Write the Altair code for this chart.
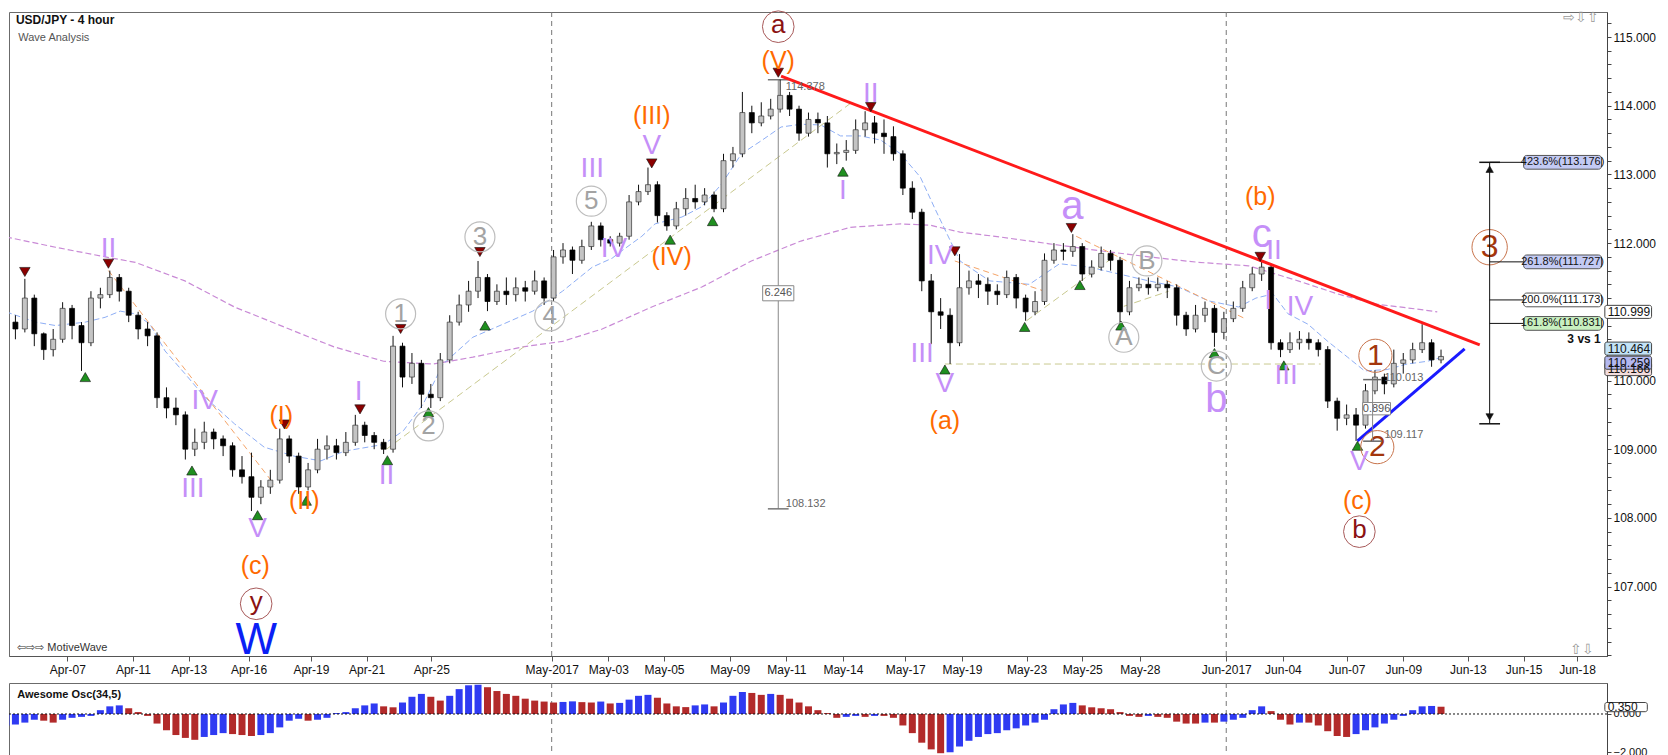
import altair as alt
import pandas as pd

# ---------------- data ----------------
OPEN0 = 110.75
CLOSE = [110.85, 110.75, 111.2, 110.68, 110.45, 110.6, 111.05, 110.8, 110.55, 111.2,
         111.25, 111.5, 111.3, 110.95, 110.75, 110.65, 109.75, 109.6, 109.5, 109.0,
         109.1, 109.25, 109.15, 109.05, 108.7, 108.6, 108.3, 108.45, 108.55, 109.15,
         108.9, 108.45, 108.7, 109.0, 109.05, 108.95, 109.1, 109.35, 109.2, 109.1,
         109.0, 110.5, 110.05, 110.25, 109.8, 109.75, 110.3, 110.85, 111.1, 111.3,
         111.5, 111.15, 111.3, 111.25, 111.35, 111.3, 111.45, 111.2, 111.8, 111.9,
         111.75, 111.95, 112.25, 112.05, 112.0, 112.1, 112.6, 112.75, 112.85, 112.4,
         112.25, 112.5, 112.65, 112.6, 112.7, 112.5, 113.2, 113.3, 113.9, 113.75,
         113.85, 113.95, 114.15, 113.95, 113.6, 113.8, 113.75, 113.3, 113.32, 113.35,
         113.65, 113.75, 113.6, 113.55, 113.3, 112.8, 112.45, 111.45, 111.0, 110.95,
         110.55, 111.35, 111.45, 111.4, 111.3, 111.25, 111.5, 111.2, 111.0, 111.15,
         111.75, 111.9, 111.88, 111.95, 111.55, 111.65, 111.85, 111.75, 111.0, 111.35,
         111.4, 111.35, 111.4, 111.35, 110.95, 110.75, 110.95, 111.05, 110.7, 110.9,
         111.05, 111.35, 111.55, 111.65, 110.55, 110.45, 110.55, 110.6, 110.55, 110.45,
         109.7, 109.45, 109.5, 109.35, 109.85, 110.05, 109.95, 110.25, 110.3, 110.45,
         110.55, 110.3, 110.35]
HIGH = [110.95, 110.95, 111.48, 111.25, 110.7, 110.75, 111.14, 111.1, 110.85, 111.3,
        111.35, 111.6, 111.55, 111.35, 111.0, 110.85, 110.7, 109.9, 109.75, 109.55,
        109.3, 109.4, 109.3, 109.2, 109.1, 108.9, 108.95, 108.55, 108.7, 109.3,
        109.2, 108.95, 108.8, 109.15, 109.2, 109.15, 109.25, 109.5, 109.4, 109.25,
        109.15, 110.65, 110.55, 110.4, 110.3, 109.95, 110.4, 110.95, 111.25, 111.45,
        111.74, 111.55, 111.4, 111.5, 111.5, 111.45, 111.6, 111.5, 111.9, 112.0,
        111.95, 112.05, 112.31, 112.3, 112.1, 112.15, 112.7, 112.85, 113.1, 112.9,
        112.45, 112.6, 112.8, 112.85, 112.8, 112.75, 113.3, 113.4, 114.2, 114.0,
        114.05, 114.1, 114.38, 114.2, 114.0, 113.9, 113.9, 113.85, 113.45, 113.5,
        113.8, 113.92, 113.85, 113.8, 113.7, 113.35, 112.9, 112.5, 111.55, 111.2,
        111.05, 111.84, 111.6, 111.55, 111.5, 111.4, 111.6, 111.55, 111.25, 111.3,
        111.85, 112.0, 112.0, 112.13, 112.0, 111.75, 111.95, 111.9, 111.8, 111.45,
        111.5, 111.5, 111.5, 111.45, 111.4, 111.0, 111.1, 111.15, 111.1, 111.0,
        111.15, 111.45, 111.65, 111.74, 111.7, 110.6, 110.7, 110.72, 110.7, 110.6,
        110.5, 109.75, 109.65, 109.6, 109.95, 110.15, 110.1, 110.45, 110.4, 110.55,
        110.82, 110.6, 110.45]
LOW = [110.6, 110.6, 110.7, 110.5, 110.3, 110.35, 110.55, 110.6, 110.14, 110.5,
       111.05, 111.2, 111.15, 110.85, 110.6, 110.5, 109.6, 109.45, 109.35, 108.85,
       108.9, 109.0, 109.0, 108.9, 108.6, 108.5, 108.1, 108.2, 108.35, 108.5,
       108.8, 108.35, 108.4, 108.65, 108.85, 108.85, 108.9, 109.05, 109.1, 109.0,
       108.93, 108.95, 109.9, 109.95, 109.6, 109.6, 109.7, 110.25, 110.8, 111.0,
       111.2, 111.01, 111.1, 111.1, 111.15, 111.15, 111.25, 111.1, 111.15, 111.7,
       111.55, 111.7, 111.9, 111.95, 111.95, 111.95, 112.05, 112.55, 112.7, 112.3,
       112.18, 112.2, 112.4, 112.5, 112.55, 112.45, 112.45, 113.1, 113.25, 113.6,
       113.7, 113.8, 113.9, 113.85, 113.49, 113.55, 113.6, 113.1, 113.15, 113.2,
       113.3, 113.55, 113.45, 113.3, 113.2, 112.7, 112.35, 111.3, 110.53, 110.75,
       110.24, 110.5, 111.25, 111.2, 111.1, 111.1, 111.2, 111.05, 110.87, 110.95,
       111.1, 111.7, 111.75, 111.8, 111.45, 111.5, 111.6, 111.6, 110.83, 110.95,
       111.3, 111.25, 111.3, 111.2, 110.8, 110.65, 110.7, 110.85, 110.49, 110.6,
       110.85, 111.0, 111.3, 111.45, 110.45, 110.34, 110.4, 110.45, 110.45, 110.35,
       109.6, 109.27, 109.35, 109.12, 109.3, 109.8, 109.8, 109.9, 110.1, 110.25,
       110.4, 110.2, 110.25]
AO = [-0.6, -0.55, -0.45, -0.3, -0.35, -0.45, -0.3, -0.2, -0.15, -0.1,
      0.2, 0.4, 0.45, 0.3, 0.1, -0.1, -0.5, -0.85, -1.1, -1.25,
      -1.35, -1.2, -1.1, -1.0, -1.05, -1.1, -1.15, -1.1, -1.0, -0.7,
      -0.35, -0.25, -0.35, -0.3, -0.2, 0.05, 0.1, 0.3, 0.45, 0.55,
      0.4, 0.35, 0.6, 0.9, 1.05, 0.9, 0.7, 0.95, 1.3, 1.5,
      1.53, 1.4, 1.2, 1.05, 0.95, 0.8, 0.7, 0.65, 0.6, 0.63,
      0.66, 0.62, 0.6, 0.65, 0.55, 0.58, 0.75, 0.95, 1.0, 0.85,
      0.55, 0.4, 0.36, 0.45, 0.5, 0.4, 0.6, 0.95, 1.15, 1.1,
      1.0, 1.05, 1.0, 0.8, 0.6, 0.4, 0.2, 0.05, -0.2, -0.15,
      -0.1, -0.15, -0.1, -0.1, -0.2, -0.6, -1.0, -1.5, -1.85, -2.05,
      -2.0, -1.7, -1.4, -1.2, -1.05, -1.0, -0.85, -0.75, -0.6, -0.45,
      -0.3, 0.25, 0.5, 0.58, 0.45, 0.35, 0.3, 0.25, 0.1, -0.1,
      -0.15, -0.1, -0.15, -0.2, -0.4, -0.5, -0.5, -0.45, -0.45, -0.4,
      -0.3, -0.2, 0.2, 0.4, 0.15, -0.3, -0.55, -0.45, -0.45, -0.6,
      -0.9, -1.15, -1.2, -1.05, -0.85, -0.7, -0.5, -0.3, -0.1, 0.2,
      0.4, 0.42, 0.38]

TICK_BARS = [13.0, 26.9, 38.7, 51.4, 64.6, 76.4, 90.1, 115.6, 127.6, 139.4, 153.3, 165.3, 177.3,
             190.5, 202.5, 216.2, 228.0, 240.2, 258.5, 270.5, 284.0, 296.0, 309.7, 321.5, 332.8]
TICK_LABELS = ['Apr-07', 'Apr-11', 'Apr-13', 'Apr-16', 'Apr-19', 'Apr-21', 'Apr-25', 'May-2017',
               'May-03', 'May-05', 'May-09', 'May-11', 'May-14', 'May-17', 'May-19', 'May-23',
               'May-25', 'May-28', 'Jun-2017', 'Jun-04', 'Jun-07', 'Jun-09', 'Jun-13', 'Jun-15', 'Jun-18']
MONTH_BARS = [115.6, 258.5]
Y_LABELED = [107, 108, 109, 110, 112, 113, 114, 115]   # 111.000 is hidden under the 110.999 tag

BLUE_MA_BAR = [0, 6.3, 10.5, 16.8, 21, 24.2, 27.4, 30.5, 33.7, 37.9, 42.1, 48.4, 54.7, 61, 66.7, 71.6,
               80, 84.2, 88.4, 92.6, 98.9, 105.3, 111.6, 117.9, 124.2, 128.4, 130.5, 134.7, 137.5,
               143.2, 147.4, 151.6, 155.8, 160, 164.2, 168.4, 172.6, 176.8, 181, 185.3, 189.5, 193.7,
               196.8, 202.1, 208.4, 216.8, 223.2, 229.5, 235.8, 242.1, 248.4, 254.7, 261.1, 264.8,
               268.4, 271.6, 275.8, 280, 284.2, 287.8, 292.6, 296.8, 301.1, 304.2]
BLUE_MA_PRICE = [111.0, 110.85, 110.8, 110.85, 110.92, 111.01, 110.97, 110.82, 110.43, 110.1, 109.76,
                 109.37, 109.03, 108.9, 108.83, 108.97, 109.07, 109.27, 109.66, 110.24, 110.63, 110.82,
                 111.01, 111.3, 111.65, 111.78, 111.89, 112.1, 112.28, 112.38, 112.53, 112.86, 113.3,
                 113.49, 113.69, 113.73, 113.72, 113.56, 113.56, 113.5, 113.3, 112.96, 112.5, 111.74,
                 111.45, 111.4, 111.7, 111.65, 111.55, 111.45, 111.36, 111.16, 111.07, 111.2, 111.26,
                 110.97, 110.82, 110.57, 110.34, 110.14, 110.16, 110.24, 110.28, 110.34]
PURPLE_MA_BAR = [0, 10.5, 21, 27.4, 37.9, 48.4, 58.9, 63.2, 69.5, 80, 90.5, 98.9, 109.5, 117.9, 126.3,
                 136.8, 147.4, 157.9, 168.4, 178.9, 189.5, 195.8, 202.1, 210.5, 221, 231.6, 242.1,
                 252.6, 263.2, 273.7, 282.1, 290.5, 298.9, 303.2]
PURPLE_MA_PRICE = [112.09, 111.94, 111.8, 111.72, 111.45, 111.07, 110.78, 110.66, 110.49, 110.28, 110.24,
                   110.34, 110.49, 110.57, 110.75, 111.07, 111.36, 111.74, 112.03, 112.23, 112.28,
                   112.26, 112.16, 112.09, 111.99, 111.89, 111.8, 111.72, 111.67, 111.45, 111.26,
                   111.11, 111.04, 111.0]

RED_TREND = [[(164.2, 114.43), (312.2, 110.52)]]
BLUE_TREND = [[(286.3, 109.12), (309.0, 110.46)]]
ORANGE_DASH = [[(21.7, 111.6), (56.8, 108.49)], [(201.0, 111.74), (220.4, 111.29)],
               [(226.7, 112.1), (262.5, 110.9)]]
TAN_DASH = [[(80.6, 109.0), (179.6, 114.07)], [(198.9, 110.24), (278.5, 110.24)],
            [(216.2, 110.87), (234.7, 111.8)], [(236.8, 111.08), (246.3, 111.3)]]

RED_TRI = [(4.0, 111.58), (21.7, 111.7), (59.0, 109.36), (75.0, 109.58), (83.6, 110.75), (100.4, 111.87),
           (136.8, 113.16), (163.6, 114.48), (183.2, 113.98), (201.0, 111.88), (225.7, 112.22), (265.7, 111.8)]
GREEN_TRI = [(16.8, 110.05), (39.4, 108.69), (53.3, 108.04), (63.6, 108.25), (80.8, 108.84), (89.5, 109.54),
             (101.5, 110.8), (140.7, 112.05), (149.7, 112.32), (177.3, 113.04), (198.9, 110.16),
             (215.8, 110.78), (227.5, 111.39), (236.2, 110.8), (256.0, 110.4), (270.7, 110.22), (286.3, 109.05)]

LAV_TEXT = [("II", 21.7, 111.91), ("III", 39.6, 108.42), ("IV", 42.1, 109.7), ("V", 53.3, 107.84),
            ("I", 74.7, 109.83), ("II", 80.6, 108.61), ("III", 124.2, 113.08), ("IV", 128.8, 111.91),
            ("V", 136.8, 113.42), ("I", 177.3, 112.76), ("II", 183.2, 114.17), ("III", 194.1, 110.39),
            ("IV", 197.9, 111.81), ("V", 198.9, 109.95), ("I", 267.4, 111.16), ("IV", 274.1, 111.07),
            ("III", 271.2, 110.07), ("V", 286.7, 108.81), ("II", 268.6, 111.89)]
LAV_BIG = [("a", 225.9, 112.47), ("b", 256.4, 109.66), ("c", 266.0, 112.06)]
ORANGE_TEXT = [("(I)", 58.3, 109.48), ("(II)", 63.2, 108.25), ("(c)", 52.8, 107.3), ("(III)", 136.8, 113.85),
               ("(IV)", 141.0, 111.8), ("(V)", 163.6, 114.65), ("(a)", 198.9, 109.41), ("(b)", 265.7, 112.67),
               ("(c)", 286.3, 108.25)]
DARKRED_CIRC = [("a", 163.6, 115.15), ("y", 53.0, 106.75), ("b", 286.7, 107.8)]
GREY_CIRC = [("1", 83.6, 110.97), ("2", 89.5, 109.34), ("3", 100.4, 112.09), ("4", 115.2, 110.94),
             ("5", 124.0, 112.61), ("A", 236.8, 110.63), ("B", 241.7, 111.74), ("C", 256.4, 110.21)]
BROWN_CIRC = [("1", 290.1, 110.36), ("2", 290.5, 109.03)]
BROWN_BIG = [("3", 314.3, 111.94)]
BLUE_W = [("W", 53.0, 106.21)]

MEASURE_BAR, MEASURE_HI, MEASURE_LO = 163.6, 114.378, 108.132
FIB_BAR, FIB_LOW = 314.3, 109.37
FIB_LEVELS = [113.176, 111.727, 111.173, 110.831]
FIB_TEXT = ['423.6%(113.176)', '261.8%(111.727)', '200.0%(111.173)', '161.8%(110.831)']
FIB_FILL = ['#c3caf4', '#c3caf4', '#ffffff', '#c8f0c0']
AXIS_TAGS = [("110.166", 110.166, '#f3dcdc'), ("110.999", 110.999, '#ffffff'),
             ("110.464", 110.464, '#c3e3f6'), ("110.259", 110.259, '#b3b8f0')]

# ---------------- scales / axes ----------------
W, H, HO = 1598, 644, 75
XS = alt.Scale(domain=[1.7, 338.1], nice=False, zero=False)
YS = alt.Scale(domain=[105.99, 115.364], nice=False, zero=False)
YO = alt.Scale(domain=[-2.3, 1.62], nice=False, zero=False)
FONT = 'Liberation Sans'

x_label_expr = f"{TICK_LABELS}[indexof({TICK_BARS}, datum.value)]"
AX_X = alt.Axis(title=None, values=TICK_BARS, labelExpr=x_label_expr, grid=False, tickSize=5,
                labelFontSize=12, labelPadding=3, labelFont=FONT, labelColor='#111',
                tickColor='#555', domainColor='#555', labelOverlap=False, labelFlush=False)
YTICKS = [round(106.0 + 0.2 * k, 1) for k in range(47)]
AX_Y = alt.Axis(title=None, orient='right', values=YTICKS,
                labelExpr=f"indexof({Y_LABELED}, round(datum.value * 10) / 10) >= 0 ? format(datum.value, '.3f') : ''",
                grid=False, tickSize=4, labelFontSize=12, labelFont=FONT, labelColor='#111',
                tickColor='#444', domainColor='#444', labelOverlap=False, labelPadding=2)


def ex(f='bar'):
    return alt.X(f'{f}:Q', scale=XS, axis=AX_X)


def ey(f='price'):
    return alt.Y(f'{f}:Q', scale=YS, axis=AX_Y)


def seg_df(segs):
    rows = []
    for k, s in enumerate(segs):
        for b, p in s:
            rows.append(dict(seg=k, bar=b, price=p))
    return pd.DataFrame(rows)


def line_layer(segs, color, width, dash=None):
    kw = dict(color=color, strokeWidth=width)
    if dash:
        kw['strokeDash'] = dash
    return alt.Chart(seg_df(segs)).mark_line(**kw).encode(x=ex(), y=ey(), detail='seg:N')


def text_layer(items, color, size, bold=False, align='center', dy=0):
    df = pd.DataFrame(items, columns=['label', 'bar', 'price'])
    return alt.Chart(df).mark_text(color=color, fontSize=size, font=FONT, align=align, baseline='middle',
                                   fontWeight='bold' if bold else 'normal', dy=dy).encode(
        x=ex(), y=ey(), text='label:N')


def circle_layer(items, color, size, width=1.0):
    df = pd.DataFrame(items, columns=['label', 'bar', 'price'])
    return alt.Chart(df).mark_point(shape='circle', filled=False, color=color, size=size,
                                    strokeWidth=width, opacity=1).encode(x=ex(), y=ey())


def tri_layer(items, shape, fill, size=110):
    df = pd.DataFrame(items, columns=['bar', 'price'])
    return alt.Chart(df).mark_point(shape=shape, filled=True, color=fill, stroke='#111', strokeWidth=0.6,
                                    size=size, opacity=1).encode(x=ex(), y=ey())


def hrule(rows, color, width=1.0, dash=None):
    df = pd.DataFrame(rows, columns=['x1', 'x2', 'price'])
    kw = dict(color=color, strokeWidth=width)
    if dash:
        kw['strokeDash'] = dash
    return alt.Chart(df).mark_rule(**kw).encode(x=ex('x1'), x2='x2:Q', y=ey())


def vrule(rows, color, width=1.0):
    df = pd.DataFrame(rows, columns=['bar', 'p1', 'p2'])
    return alt.Chart(df).mark_rule(color=color, strokeWidth=width).encode(x=ex(), y=ey('p1'), y2='p2:Q')


def box_layer(rows, stroke='#555', radius=3):
    df = pd.DataFrame(rows, columns=['x1', 'x2', 'p1', 'p2', 'fill'])
    return alt.Chart(df).mark_rect(stroke=stroke, strokeWidth=1, cornerRadius=radius).encode(
        x=ex('x1'), x2='x2:Q', y=ey('p1'), y2='p2:Q', fill=alt.Fill('fill:N', scale=None))


# ---------------- candles ----------------
n = min(len(CLOSE), len(HIGH), len(LOW))
opens = [OPEN0] + CLOSE[:n - 1]
cdf = pd.DataFrame(dict(bar=[2 * i for i in range(n)], open=opens, close=CLOSE[:n],
                        high=HIGH[:n], low=LOW[:n]))
cdf['b_lo'] = cdf[['open', 'close']].min(axis=1)
cdf['b_hi'] = cdf[['open', 'close']].max(axis=1)
up = cdf[cdf.close >= cdf.open]
dn = cdf[cdf.close < cdf.open]

wicks = alt.Chart(cdf).mark_rule(color='#111', strokeWidth=1, clip=True).encode(
    x=ex(), y=ey('low'), y2='high:Q')
body_up = alt.Chart(up).mark_bar(size=5, fill='#c4c4c4', stroke='#333', strokeWidth=0.7, clip=True).encode(
    x=ex(), y=ey('b_lo'), y2='b_hi:Q')
body_dn = alt.Chart(dn).mark_bar(size=5, fill='#000', stroke='#000', strokeWidth=0.7, clip=True).encode(
    x=ex(), y=ey('b_lo'), y2='b_hi:Q')

blue_ma = alt.Chart(pd.DataFrame(dict(bar=BLUE_MA_BAR, price=BLUE_MA_PRICE))).mark_line(
    color='#8eaef5', strokeWidth=1, strokeDash=[6, 3], clip=True).encode(x=ex(), y=ey())
purple_ma = alt.Chart(pd.DataFrame(dict(bar=PURPLE_MA_BAR, price=PURPLE_MA_PRICE))).mark_line(
    color='#c98ad6', strokeWidth=1.2, strokeDash=[6, 3], clip=True).encode(x=ex(), y=ey())

month_rules = alt.Chart(pd.DataFrame({'bar': MONTH_BARS})).mark_rule(
    color='#777', strokeDash=[5, 4], strokeWidth=1).encode(x=ex())

# measurement tool (left)
measure = [
    vrule([(MEASURE_BAR, MEASURE_LO, MEASURE_HI)], '#888', 1),
    hrule([(MEASURE_BAR - 2.2, MEASURE_BAR + 2.2, MEASURE_LO), (MEASURE_BAR - 2.2, MEASURE_BAR + 2.2, MEASURE_HI)],
          '#777', 1.5),
]
small_boxes = box_layer([(MEASURE_BAR - 3.3, MEASURE_BAR + 3.3, 111.16, 111.38, '#ffffff'),
                         (287.4, 293.3, 109.5, 109.68, '#ffffff')], stroke='#888', radius=0)
small_txt = text_layer([("6.246", MEASURE_BAR, 111.27), ("0.896", 290.35, 109.59)], '#555', 11)
small_txt2 = text_layer([("114.378", 165.2, 114.27), ("108.132", 165.2, 108.2),
                         ("110.013", 292.0, 110.04), ("109.117", 292.0, 109.2)], '#666', 11, align='left')
small_rules = [hrule([(287.5, 291.5, 110.013), (287.5, 291.5, 109.117)], '#666', 1.5),
               vrule([(289.5, 109.117, 110.013)], '#888', 1)]

# fib tool (right)
fib_layers = [
    vrule([(FIB_BAR, FIB_LOW, FIB_LEVELS[0])], '#111', 1),
    hrule([(FIB_BAR - 2.2, FIB_BAR + 2.2, FIB_LEVELS[0]), (FIB_BAR - 2.2, FIB_BAR + 2.2, FIB_LOW)], '#111', 1.5),
    hrule([(FIB_BAR, 321.5, lv) for lv in FIB_LEVELS], '#111', 1),
    tri_layer([(FIB_BAR, FIB_LEVELS[0] - 0.1)], 'triangle-up', '#111', 55),
    tri_layer([(FIB_BAR, FIB_LOW + 0.1)], 'triangle-down', '#111', 55),
    box_layer([(321.5, 338.0, lv - 0.1, lv + 0.1, fc) for lv, fc in zip(FIB_LEVELS, FIB_FILL)]),
    text_layer([(t, 329.75, lv) for t, lv in zip(FIB_TEXT, FIB_LEVELS)], '#111', 11),
    text_layer([("3 vs 1", 334.3, 110.6)], '#111', 12, bold=True),
]

axis_tags = [
    box_layer([(338.7, 348.6, v - 0.095, v + 0.095, fc) for _, v, fc in AXIS_TAGS], stroke='#444', radius=2),
    text_layer([(t, 339.3, v) for t, v, _ in AXIS_TAGS], '#111', 12, align='left'),
]

titles = [
    text_layer([("USD/JPY - 4 hour", 2.1, 115.25)], '#111', 12, bold=True, align='left'),
    text_layer([("Wave Analysis", 2.6, 114.99)], '#555', 11, align='left'),
    text_layer([("\u21e6\u21e8\u21e8 MotiveWave", 2.4, 106.1)], '#333', 11, align='left'),
    text_layer([("\u21e8\u21e9\u21e7", 333.6, 115.28)], '#999', 14),
    text_layer([("\u21e7\u21e9", 333.8, 106.08)], '#999', 14),
]

main = alt.layer(
    month_rules, purple_ma, blue_ma,
    line_layer(ORANGE_DASH, '#f5a468', 1, [6, 4]),
    line_layer(TAN_DASH, '#c9c98f', 1, [7, 4]),
    *measure,
    wicks, body_up, body_dn,
    line_layer(RED_TREND, '#ff1a1a', 3),
    line_layer(BLUE_TREND, '#1a1aff', 3),
    tri_layer(RED_TRI, 'triangle-down', '#8b0000'),
    tri_layer(GREEN_TRI, 'triangle-up', '#1f8f1f'),
    circle_layer(GREY_CIRC, '#bdbdbd', 900, 1.2),
    circle_layer(DARKRED_CIRC, '#a85a5a', 1000, 1.0),
    circle_layer(BROWN_CIRC, '#c8744c', 1100, 1.0),
    circle_layer(BROWN_BIG, '#c8744c', 1250, 1.0),
    text_layer(GREY_CIRC, '#a3a3a3', 26),
    text_layer(DARKRED_CIRC, '#8b1212', 26, dy=-2),
    text_layer(BROWN_CIRC, '#a3360c', 30),
    text_layer(BROWN_BIG, '#a3360c', 32),
    text_layer(LAV_TEXT, '#c58ff8', 28),
    text_layer(LAV_BIG, '#c58ff8', 40, dy=-4),
    text_layer(ORANGE_TEXT, '#ff6a00', 25),
    text_layer(BLUE_W, '#0b1ff5', 44),
    small_boxes, small_txt, small_txt2, *small_rules,
    *fib_layers, *axis_tags, *titles,
).properties(width=W, height=H)

# ---------------- oscillator ----------------
odf = pd.DataFrame(dict(bar=[2 * i for i in range(len(AO))], ao=AO))
odf['col'] = ['#2f3af2' if (i == 0 or AO[i] > AO[i - 1]) else '#b22a2a' for i in range(len(AO))]

AX_YO = alt.Axis(title=None, orient='right', values=[-2.0, 0.0], format='.3f', grid=False, tickSize=4,
                 labelFontSize=11, labelFont=FONT, labelColor='#111', tickColor='#444', domainColor='#444')


def ox(f='bar'):
    return alt.X(f'{f}:Q', scale=XS, axis=None)


def oy(f='ao'):
    return alt.Y(f'{f}:Q', scale=YO, axis=AX_YO)


osc_layers = [
    alt.Chart(pd.DataFrame({'bar': MONTH_BARS})).mark_rule(color='#777', strokeDash=[5, 4]).encode(x=ox()),
    alt.Chart(odf).mark_bar(size=7, clip=True).encode(x=ox(), y=oy(), y2=alt.datum(0),
                                                       color=alt.Color('col:N', scale=None)),
    alt.Chart(pd.DataFrame({'ao': [0.0]})).mark_rule(color='#111', strokeDash=[2, 2], strokeWidth=1).encode(y=oy()),
    alt.Chart(pd.DataFrame({'label': ['Awesome Osc(34,5)'], 'bar': [2.4], 'ao': [1.0]})).mark_text(
        align='left', fontSize=11, fontWeight='bold', font=FONT, color='#111').encode(x=ox(), y=oy(), text='label:N'),
    alt.Chart(pd.DataFrame({'x1': [338.7], 'x2': [347.7], 'p1': [0.12], 'p2': [0.6]})).mark_rect(
        fill='#ffffff', stroke='#444', cornerRadius=2).encode(x=ox('x1'), x2='x2:Q', y=oy('p1'), y2='p2:Q'),
    alt.Chart(pd.DataFrame({'label': ['0.350'], 'bar': [339.3], 'ao': [0.36]})).mark_text(
        align='left', fontSize=12, font=FONT, color='#111').encode(x=ox(), y=oy(), text='label:N'),
]
osc = alt.layer(*osc_layers).properties(width=W, height=HO)

chart = alt.vconcat(main, osc, spacing=6, padding=0).configure_view(stroke='#6b6b6b', strokeWidth=1)
chart.save("out.html", embed_options={"renderer": "svg", "actions": False})
